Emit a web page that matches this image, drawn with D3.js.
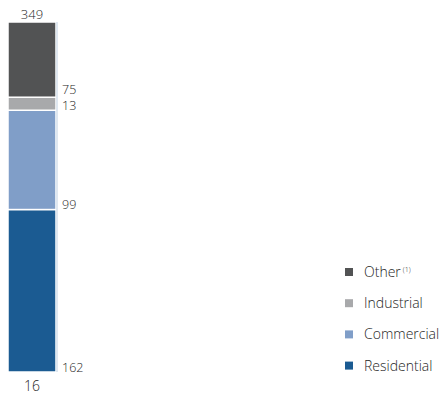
<!DOCTYPE html>
<html>
<head>
<meta charset="utf-8">
<script src="https://cdn.jsdelivr.net/npm/d3@7"></script>
<style>
  html, body { margin: 0; padding: 0; background: #fff; }
  svg { display: block; }
  text { font-family: "Open Sans", Lato, sans-serif; font-weight: 300; fill: #262626; }
</style>
</head>
<body>
<svg id="chart" width="446" height="395"></svg>
<script>
// Energy use by sector, one stacked column
const categories = ["16"];
const segments = ["Residential", "Commercial", "Industrial", "Other"];
const residential = [162];
const commercial = [99];
const industrial = [13];
const other = [75];
const colors = ["#1b5b92", "#809ec8", "#a8a9ab", "#525354"];
const legendOrder = ["Other", "Industrial", "Commercial", "Residential"];

const rows = categories.map((c, i) => ({
  category: c,
  Residential: residential[i],
  Commercial: commercial[i],
  Industrial: industrial[i],
  Other: other[i]
}));
const totals = rows.map(r => segments.reduce((s, k) => s + r[k], 0));

const svg = d3.select("#chart");
const x = d3.scaleBand().domain(categories).range([8, 56]).padding(0);
const y = d3.scaleLinear().domain([0, d3.max(totals)]).range([372, 22]);
const color = d3.scaleOrdinal().domain(segments).range(colors);

const stacked = d3.stack().keys(segments)(rows);

// column segments
const layer = svg.append("g")
  .selectAll("g")
  .data(stacked)
  .join("g")
  .attr("fill", d => color(d.key));

layer.selectAll("rect")
  .data(d => d)
  .join("rect")
  .attr("x", d => x(d.data.category))
  .attr("width", x.bandwidth())
  .attr("y", d => y(d[1]))
  .attr("height", d => y(d[0]) - y(d[1]))
  .attr("stroke", "#fff")
  .attr("stroke-width", 1.5);

// thin rule along the right edge of the column
svg.append("line")
  .attr("x1", 57).attr("x2", 57)
  .attr("y1", y(d3.max(totals))).attr("y2", y(0))
  .attr("stroke", "#c9d7e6")
  .attr("stroke-width", 1.2);

// segment values, sitting at the base of each segment
stacked.forEach(s => {
  s.forEach(d => {
    const v = d[1] - d[0];
    svg.append("text")
      .attr("x", x(d.data.category) + x.bandwidth() + 6)
      .attr("y", y(d[0]) - (s.key === "Other" ? 3.5 : 0.5))
      .attr("font-size", 12.5)
      .text(v);
  });
});

// column total
rows.forEach((r, i) => {
  svg.append("text")
    .attr("x", x(r.category) + x.bandwidth() / 2)
    .attr("y", y(totals[i]) - 3.5)
    .attr("text-anchor", "middle")
    .attr("font-size", 13)
    .text(totals[i]);
});

// category axis label
svg.append("g")
  .selectAll("text")
  .data(categories)
  .join("text")
  .attr("x", d => x(d) + x.bandwidth() / 2)
  .attr("y", 391)
  .attr("text-anchor", "middle")
  .attr("font-size", 14)
  .text(d => d);

// legend
const legend = svg.append("g").attr("transform", "translate(345,0)");
const item = legend.selectAll("g")
  .data(legendOrder)
  .join("g")
  .attr("transform", (d, i) => `translate(0,${268 + i * 31.2})`);

item.append("rect")
  .attr("width", 8).attr("height", 8)
  .attr("fill", d => color(d));

const label = item.append("text")
  .attr("x", 19)
  .attr("y", 9)
  .attr("font-size", 14)
  .attr("fill", "#3a3a3a");
label.append("tspan").text(d => d);
label.filter(d => d === "Other")
  .append("tspan")
  .attr("dx", 2)
  .attr("dy", -5)
  .attr("font-size", 7)
  .text("(1)");
</script>
</body>
</html>
